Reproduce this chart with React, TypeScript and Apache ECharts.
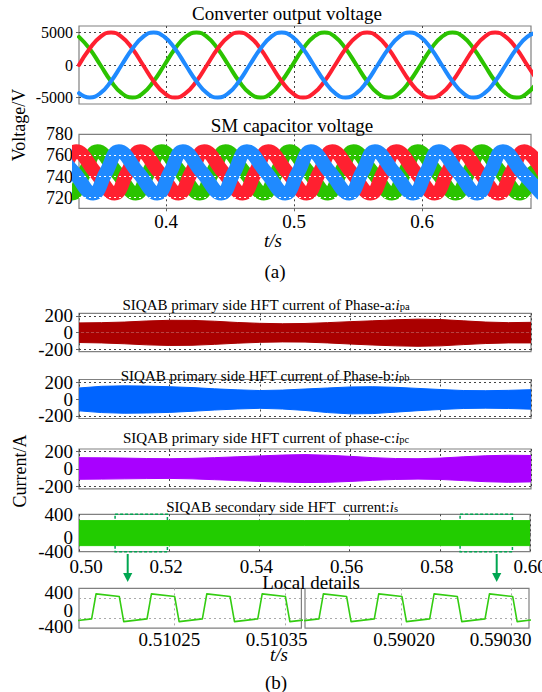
import React, { useEffect, useRef } from "react";
import * as echarts from "echarts";

const FONT = "Liberation Serif, Times New Roman, serif";

// ---------------- (a) Converter output voltage ----------------
const voltTime = [
  0.332, 0.3403, 0.3487, 0.357, 0.3653, 0.3737, 0.382, 0.3903, 0.3987, 0.407, 0.4153, 0.4237,
  0.432, 0.4403, 0.4487, 0.457, 0.4653, 0.4737, 0.482, 0.4903, 0.4987, 0.507, 0.5153, 0.5237,
  0.532, 0.5403, 0.5487, 0.557, 0.5653, 0.5737, 0.582, 0.5903, 0.5987, 0.607, 0.6153, 0.6237,
  0.632, 0.6403, 0.6487, 0.657, 0.6653, 0.6737, 0.682, 0.6903,
];
const voltRed = [
  0, 2500, 4330, 5000, 4330, 2500, 0, -2500, -4330, -5000, -4330, -2500,
  0, 2500, 4330, 5000, 4330, 2500, 0, -2500, -4330, -5000, -4330, -2500,
  0, 2500, 4330, 5000, 4330, 2500, 0, -2500, -4330, -5000, -4330, -2500,
  0, 2500, 4330, 5000, 4330, 2500, 0, -2500,
];
const voltBlue = [
  -4330, -5000, -4330, -2500, 0, 2500, 4330, 5000, 4330, 2500, 0, -2500,
  -4330, -5000, -4330, -2500, 0, 2500, 4330, 5000, 4330, 2500, 0, -2500,
  -4330, -5000, -4330, -2500, 0, 2500, 4330, 5000, 4330, 2500, 0, -2500,
  -4330, -5000, -4330, -2500, 0, 2500, 4330, 5000,
];
const voltGreen = [
  4330, 2500, 0, -2500, -4330, -5000, -4330, -2500, 0, 2500, 4330, 5000,
  4330, 2500, 0, -2500, -4330, -5000, -4330, -2500, 0, 2500, 4330, 5000,
  4330, 2500, 0, -2500, -4330, -5000, -4330, -2500, 0, 2500, 4330, 5000,
  4330, 2500, 0, -2500, -4330, -5000, -4330, -2500,
];
const voltTicks = [-5000, 0, 5000];
const timeTicksA = [0.4, 0.5, 0.6];

// ---------------- (a) SM capacitor voltage ----------------
const capTimeGreen = [
  0.3114, 0.3264, 0.3364, 0.3464, 0.3614, 0.3764, 0.3864, 0.3964, 0.4114, 0.4264, 0.4364, 0.4464,
  0.4614, 0.4764, 0.4864, 0.4964, 0.5114, 0.5264, 0.5364, 0.5464, 0.5614, 0.5764, 0.5864, 0.5964,
  0.6114, 0.6264, 0.6364, 0.6464, 0.6614, 0.6764, 0.6864,
];
const capValGreen = [
  744, 724, 744, 764, 744, 724, 744, 764, 744, 724, 744, 764,
  744, 724, 744, 764, 744, 724, 744, 764, 744, 724, 744, 764,
  744, 724, 744, 764, 744, 724, 744,
];
const capTimeRed = [
  0.3198, 0.3298, 0.3448, 0.3598, 0.3698, 0.3798, 0.3948, 0.4098, 0.4198, 0.4298, 0.4448, 0.4598,
  0.4698, 0.4798, 0.4948, 0.5098, 0.5198, 0.5298, 0.5448, 0.5598, 0.5698, 0.5798, 0.5948, 0.6098,
  0.6198, 0.6298, 0.6448, 0.6598, 0.6698, 0.6798, 0.6948,
];
const capValRed = [
  744, 764, 744, 724, 744, 764, 744, 724, 744, 764, 744, 724,
  744, 764, 744, 724, 744, 764, 744, 724, 744, 764, 744, 724,
  744, 764, 744, 724, 744, 764, 744,
];
const capTimeBlue = [
  0.3131, 0.3281, 0.3431, 0.3531, 0.3631, 0.3781, 0.3931, 0.4031, 0.4131, 0.4281, 0.4431, 0.4531,
  0.4631, 0.4781, 0.4931, 0.5031, 0.5131, 0.5281, 0.5431, 0.5531, 0.5631, 0.5781, 0.5931, 0.6031,
  0.6131, 0.6281, 0.6431, 0.6531, 0.6631, 0.6781, 0.6931,
];
const capValBlue = [
  764, 744, 724, 744, 764, 744, 724, 744, 764, 744, 724, 744,
  764, 744, 724, 744, 764, 744, 724, 744, 764, 744, 724, 744,
  764, 744, 724, 744, 764, 744, 724,
];
const capLabelTicks = [720, 740, 760, 780];
const capGridTicks = [720, 740, 760];

// ---------------- (b) HFT currents (envelopes) ----------------
const hftTime = [
  0.5, 0.505, 0.51, 0.515, 0.52, 0.525, 0.53, 0.535, 0.54, 0.545, 0.55,
  0.555, 0.56, 0.565, 0.57, 0.575, 0.58, 0.585, 0.59, 0.595, 0.6,
];
const ipaUpper = [115, 118, 125, 138, 146, 145, 135, 120, 110, 105, 108, 118, 130, 140, 152, 160, 155, 140, 125, 118, 122];
const ipaLower = [-120, -125, -135, -148, -155, -153, -142, -128, -118, -113, -115, -125, -138, -150, -160, -165, -160, -145, -132, -125, -125];
const ipbUpper = [130, 150, 155, 152, 145, 135, 120, 108, 100, 105, 118, 130, 142, 145, 138, 125, 112, 100, 98, 102, 110];
const ipbLower = [-140, -160, -168, -165, -158, -145, -130, -118, -110, -118, -135, -160, -175, -172, -155, -138, -124, -112, -108, -112, -120];
const ipcUpper = [130, 128, 125, 120, 118, 122, 130, 140, 150, 160, 165, 158, 145, 130, 120, 118, 125, 140, 152, 158, 155];
const ipcLower = [-120, -118, -115, -112, -110, -115, -125, -135, -145, -152, -158, -155, -145, -132, -122, -118, -122, -135, -148, -155, -150];
const isTime = [0.5, 0.55, 0.6];
const isUpper = [265, 265, 265];
const isLower = [-270, -270, -270];
const hftTicks = [-200, 0, 200];
const hftEdgeLabels = [-200, 200];
const isEdgeLabels = [-400, 400];
const zeroLabel = [0];
const isGridTicks = [-200, 200];
const zoomBoxes = [
  [0.508, 0.5196],
  [0.5845, 0.5961],
];

// ---------------- (b) Local details ----------------
const detailTimeL = [
  0.5101544, 0.5101754, 0.5101794, 0.5102004, 0.5102044, 0.5102254, 0.5102294, 0.5102504, 0.5102544,
  0.5102754, 0.5102794, 0.5103004, 0.5103044, 0.5103254, 0.5103294, 0.5103504, 0.5103544, 0.5103754,
];
const detailValL = [-270, -214, 290, 236, -270, -214, 290, 236, -270, -214, 290, 236, -270, -214, 290, 236, -270, -214];
const detailTimeR = [
  0.5901049, 0.5901259, 0.5901299, 0.5901509, 0.5901549, 0.5901759, 0.5901799, 0.5902009, 0.5902049,
  0.5902259, 0.5902299, 0.5902509, 0.5902549, 0.5902759, 0.5902799, 0.5903009, 0.5903049, 0.5903259,
];
const detailValR = [-270, -214, 290, 236, -270, -214, 290, 236, -270, -214, 290, 236, -270, -214, 290, 236, -270, -214];
const detailTicksL = [0.51025, 0.51035];
const detailTicksR = [0.5902, 0.5903];

const zip = (t: number[], v: number[]) => t.map((x, i) => [x, v[i]]);

const C = {
  red: "#ff2030",
  green: "#2bc300",
  blue: "#1f8aff",
  pa: "#aa0000",
  pb: "#0064ff",
  pc: "#a800ff",
  is: "#22cc00",
  det: "#33cc11",
  mark: "#00a651",
};

const gridLine = (color = "#444") => ({
  show: true,
  lineStyle: { color, width: 1, type: [2, 3] as any },
});

// rich styles used to nudge individual tick labels like in the original figure
const tk = (size: number, padding: number[]) => ({
  fontFamily: FONT,
  fontSize: size,
  color: "#000",
  padding,
});

function buildOption() {
  const grids = [
    { left: 79, top: 26, width: 452, height: 78 },
    { left: 79, top: 134.3, width: 452, height: 74 },
    { left: 79, top: 313.3, width: 452, height: 38.4 },
    { left: 79, top: 379.5, width: 452, height: 39 },
    { left: 79, top: 449, width: 452, height: 39.8 },
    { left: 79, top: 514.3, width: 451, height: 37.4 },
    { left: 79, top: 588.4, width: 222.4, height: 39.7 },
    { left: 305, top: 588.4, width: 224, height: 39.7 },
  ].map((g) => ({
    ...g,
    show: true,
    borderColor: "#808080",
    borderWidth: 1.2,
    backgroundColor: "transparent",
    containLabel: false,
    outerBoundsMode: "none",
  }));

  const lbl = (size: number, extra: any = {}) => ({
    show: true,
    fontFamily: FONT,
    fontSize: size,
    color: "#000",
    hideOverlap: false,
    showMinLabel: true,
    showMaxLabel: true,
    formatter: (v: number) => String(v),
    ...extra,
  });

  const xAxes: any[] = [
    {
      gridIndex: 0, type: "value", min: 0.332, max: 0.685,
      axisLine: { show: false },
      axisTick: { show: false, customValues: timeTicksA },
      axisLabel: { show: false },
      splitLine: gridLine(),
    },
    {
      gridIndex: 1, type: "value", min: 0.332, max: 0.685,
      axisLine: { show: false },
      axisTick: { show: true, length: 3, customValues: timeTicksA, lineStyle: { color: "#666" } },
      axisLabel: lbl(19, { customValues: timeTicksA, margin: 4, formatter: (v: number) => v.toFixed(1) }),
      splitLine: gridLine(),
    },
  ];
  for (let g = 2; g <= 5; g++) {
    xAxes.push({
      gridIndex: g, type: "value", min: 0.5, max: 0.6, interval: 0.02,
      axisLine: { show: false },
      axisTick: { show: g === 5, length: 3, lineStyle: { color: "#666" } },
      axisLabel:
        g === 5
          ? lbl(19, {
              margin: 5,
              formatter: (v: number) => {
                const s = v.toFixed(2);
                if (s === "0.50") return `{a|${s}}`;
                if (s === "0.60") return s;
                return `{b|${s}}`;
              },
              rich: { a: tk(19, [0, 0, 0, 14]), b: tk(19, [0, 6, 0, 0]) },
            })
          : { show: false },
      splitLine: gridLine(),
    });
  }
  xAxes.push({
    gridIndex: 6, type: "value", min: 0.510164, max: 0.5103648,
    axisLine: { show: false },
    axisTick: { show: false, customValues: detailTicksL },
    axisLabel: lbl(19, {
      customValues: detailTicksL,
      margin: 2,
      formatter: (v: number) => {
        const s = v.toFixed(5);
        return s === "0.51025" ? `{a|${s}}` : `{b|${s}}`;
      },
      rich: { a: tk(19, [0, 10, 0, 0]), b: tk(19, [0, 17, 0, 0]) },
    }),
    splitLine: gridLine("#aaa"),
  });
  xAxes.push({
    gridIndex: 7, type: "value", min: 0.5901133, max: 0.5903156,
    axisLine: { show: false },
    axisTick: { show: false, customValues: detailTicksR },
    axisLabel: lbl(19, {
      customValues: detailTicksR,
      margin: 2,
      formatter: (v: number) => {
        const s = v.toFixed(5);
        return s === "0.59020" ? `{a|${s}}` : `{b|${s}}`;
      },
      rich: { a: tk(19, [0, 0, 0, 6]), b: tk(19, [0, 22, 0, 0]) },
    }),
    splitLine: gridLine("#aaa"),
  });

  const YS = 19;
  const yAxes: any[] = [
    {
      gridIndex: 0, type: "value", min: -6000, max: 6000, position: "left",
      axisLine: { show: false },
      axisTick: { show: true, length: 3, customValues: voltTicks, lineStyle: { color: "#666" } },
      axisLabel: lbl(16, { customValues: voltTicks, margin: 6 }),
      splitLine: gridLine(),
    },
    {
      gridIndex: 1, type: "value", min: 710, max: 780, position: "left",
      axisLine: { show: false },
      axisTick: { show: true, length: 3, customValues: capGridTicks, lineStyle: { color: "#666" } },
      axisLabel: lbl(18, { customValues: capLabelTicks, margin: 6 }),
      splitLine: gridLine(),
    },
  ];
  for (let g = 2; g <= 4; g++) {
    yAxes.push({
      gridIndex: g, type: "value", min: -230, max: 230, position: "left",
      axisLine: { show: false },
      axisTick: { show: true, length: 3, customValues: hftTicks, lineStyle: { color: "#666" } },
      axisLabel: lbl(YS, { customValues: hftEdgeLabels, margin: 6 }),
      splitLine: gridLine(),
    });
  }
  yAxes.push({
    gridIndex: 5, type: "value", min: -400, max: 400, position: "left",
    axisLine: { show: false },
    axisTick: { show: false, customValues: isGridTicks },
    axisLabel: lbl(YS, { customValues: isEdgeLabels, margin: 6 }),
    splitLine: gridLine("#666"),
  });
  yAxes.push({
    gridIndex: 6, type: "value", min: -400, max: 400, position: "left",
    axisLine: { show: false },
    axisTick: { show: false, customValues: isGridTicks },
    axisLabel: lbl(YS, {
      customValues: isEdgeLabels,
      margin: 6,
      formatter: (v: number) => (v > 0 ? `{t|${v}}` : `{m|${v}}`),
      rich: { t: tk(YS, [8, 0, 0, 0]), m: tk(YS, [0, 0, 3, 0]) },
    }),
    splitLine: gridLine("#aaa"),
  });
  yAxes.push({
    gridIndex: 7, type: "value", min: -400, max: 400, position: "left",
    axisLine: { show: false },
    axisTick: { show: false, customValues: isGridTicks },
    axisLabel: { show: false },
    splitLine: gridLine("#aaa"),
  });
  // second (label-only) y axes carrying the "0" labels of the (b) panels
  const zeroAxis = (g: number, min: number, max: number, padTop = 0) => ({
    gridIndex: g, type: "value", min, max, position: "left", offset: 0,
    axisLine: { show: false },
    axisTick: { show: false, customValues: zeroLabel },
    axisLabel: lbl(YS, {
      customValues: zeroLabel,
      margin: 6,
      formatter: () => (padTop ? "{z|0}" : "0"),
      rich: { z: tk(YS, [padTop, 0, 0, 0]) },
    }),
    splitLine: { show: false },
  });
  yAxes.push(zeroAxis(2, -230, 230));
  yAxes.push(zeroAxis(3, -230, 230));
  yAxes.push(zeroAxis(4, -230, 230));
  yAxes.push(zeroAxis(5, -400, 400, 9));
  yAxes.push(zeroAxis(6, -400, 400, 4));

  const line = (gi: number, data: number[][], color: string, width: number, smooth: any = false, extra: any = {}) => ({
    type: "line",
    xAxisIndex: gi,
    yAxisIndex: gi,
    data,
    smooth,
    showSymbol: false,
    symbol: "none",
    silent: true,
    clip: true,
    lineStyle: { color, width, cap: "round", join: "round" },
    ...extra,
  });
  const band = (gi: number, t: number[], v: number[], color: string, extra: any = {}) => ({
    type: "line",
    xAxisIndex: gi,
    yAxisIndex: gi,
    data: zip(t, v),
    showSymbol: false,
    symbol: "none",
    silent: true,
    lineStyle: { color, width: 1 },
    areaStyle: { color, opacity: 1 },
    ...extra,
  });

  const series: any[] = [
    line(0, zip(voltTime, voltGreen), C.green, 4, 0.5),
    line(0, zip(voltTime, voltRed), C.red, 4, 0.5),
    line(0, zip(voltTime, voltBlue), C.blue, 4, 0.5),
    line(1, zip(capTimeGreen, capValGreen), C.green, 14, 0.45),
    line(1, zip(capTimeRed, capValRed), C.red, 14, 0.45),
    line(1, zip(capTimeBlue, capValBlue), C.blue, 14, 0.45, {
      markLine: {
        silent: true,
        symbol: "none",
        label: { show: false },
        lineStyle: { color: "#ffffff", type: [2, 3], width: 1 },
        data: capGridTicks.map((v) => ({ yAxis: v })),
      },
    }),
    band(2, hftTime, ipaUpper, C.pa),
    band(2, hftTime, ipaLower, C.pa),
    band(3, hftTime, ipbUpper, C.pb),
    band(3, hftTime, ipbLower, C.pb),
    band(4, hftTime, ipcUpper, C.pc),
    band(4, hftTime, ipcLower, C.pc),
    band(5, isTime, isUpper, C.is),
    band(5, isTime, isLower, C.is, {
      markArea: {
        silent: true,
        label: { show: false },
        itemStyle: { color: "rgba(0,0,0,0)", borderColor: C.mark, borderWidth: 1.5, borderType: [3, 2] },
        data: zoomBoxes.map(([a, b]) => [
          { xAxis: a, yAxis: 400 },
          { xAxis: b, yAxis: -400 },
        ]),
      },
    }),
    line(6, zip(detailTimeL, detailValL), C.det, 1.6),
    line(7, zip(detailTimeR, detailValR), C.det, 1.6),
  ];

  const txt = (text: string, x: number, y: number, size: number, extra: any = {}) => ({
    type: "text",
    x,
    y,
    silent: true,
    style: {
      text,
      fontFamily: FONT,
      fontSize: size,
      fill: "#000",
      align: "center",
      verticalAlign: "middle",
      ...extra,
    },
  });
  const TS = 15;
  const subRich = {
    n: { fontFamily: FONT, fontSize: TS, fill: "#000", lineHeight: 20, verticalAlign: "bottom" },
    it: { fontFamily: FONT, fontSize: TS, fill: "#000", fontStyle: "italic", lineHeight: 20, verticalAlign: "bottom" },
    sub: { fontFamily: FONT, fontSize: 10.5, fill: "#000", lineHeight: 10, verticalAlign: "bottom" },
  };
  const subTitle = (main: string, sub: string, x: number, y: number) => ({
    type: "text",
    x,
    y,
    silent: true,
    style: {
      text: `{n|${main}}{it|i}{sub|${sub}}`,
      rich: subRich,
      fontFamily: FONT,
      align: "center",
      verticalAlign: "middle",
    },
  });
  const arrow = (x: number) => [
    { type: "line", silent: true, shape: { x1: x, y1: 554, x2: x, y2: 575 }, style: { stroke: C.mark, lineWidth: 2 } },
    {
      type: "polygon",
      silent: true,
      shape: { points: [[x - 4.6, 573], [x + 4.6, 573], [x, 582]] },
      style: { fill: C.mark },
    },
  ];

  const graphic: any[] = [
    txt("Converter output voltage", 287, 13, 19),
    txt("SM capacitor voltage", 292, 125.5, 19),
    txt("t/s", 273, 240, 19, { fontStyle: "italic" }),
    txt("(a)", 275, 271, 19),
    { ...txt("Voltage/V", 0, 0, 18), x: 19, y: 125, rotation: Math.PI / 2 },
    { ...txt("Current/A", 0, 0, 18), x: 20, y: 471, rotation: Math.PI / 2 },
    subTitle("SIQAB primary side HFT current of Phase-a:", "pa", 266, 302),
    subTitle("SIQAB primary side HFT current of Phase-b:", "pb", 265, 373),
    subTitle("SIQAB primary side HFT current of phase-c:", "pc", 266, 435),
    subTitle("SIQAB secondary side HFT  current:", "s", 282, 504),
    txt("Local details", 311, 582, 19),
    txt("t/s", 279, 654, 19, { fontStyle: "italic" }),
    txt("(b)", 276, 682, 19),
    ...arrow(127.7),
    ...arrow(496.7),
  ];

  return {
    animation: false,
    backgroundColor: "#ffffff",
    textStyle: { fontFamily: FONT },
    grid: grids,
    xAxis: xAxes,
    yAxis: yAxes,
    series,
    graphic,
  };
}

export default function App() {
  const ref = useRef<HTMLDivElement>(null);
  useEffect(() => {
    document.body.style.margin = "0";
    if (!ref.current) return;
    const chart = echarts.init(ref.current, null, { renderer: "svg" });
    chart.setOption(buildOption() as any);
    return () => chart.dispose();
  }, []);
  return <div ref={ref} style={{ width: 542, height: 692 }} />;
}
